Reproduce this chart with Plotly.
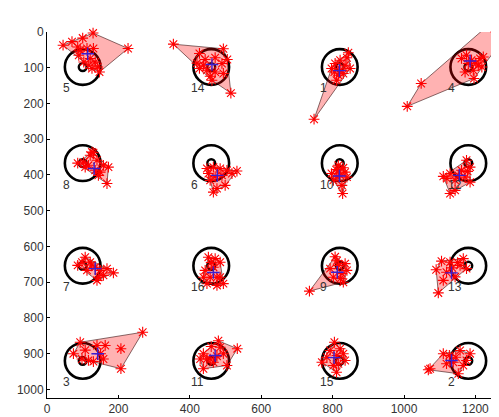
import plotly.graph_objects as go

# ---- data ----
target_ids = [5, 14, 1, 4, 8, 6, 10, 12, 7, 16, 9, 13, 3, 11, 15, 2]
target_x = [100, 460, 820, 1180, 100, 460, 820, 1180, 100, 460, 820, 1180, 100, 460, 820, 1180]
target_y = [98, 98, 98, 98, 367, 367, 367, 367, 654, 654, 654, 654, 920, 920, 920, 920]

gx_5 = [45, 70, 100, 129, 227, 147, 93, 89, 112, 130, 121, 103, 135, 117, 126, 142, 86]
gy_5 = [37, 27, 17, 3, 46, 112, 51, 65, 46, 46, 74, 84, 84, 93, 102, 98, 42]
gx_14 = [354, 494, 505, 515, 427, 420, 443, 471, 490, 427, 448, 471, 457, 462, 494, 438]
gy_14 = [34, 47, 77, 171, 60, 87, 77, 72, 88, 102, 107, 112, 124, 135, 116, 93]
gx_1 = [748, 844, 849, 797, 807, 821, 816, 830, 811, 835, 823, 840, 805]
gy_1 = [244, 58, 102, 102, 88, 79, 121, 116, 135, 93, 107, 72, 112]
gx_4 = [1009, 1048, 1257, 1287, 1257, 1196, 1161, 1175, 1189, 1213, 1222, 1208, 1194, 1171, 1180, 1201, 1218]
gy_4 = [208, 144, -37, 8, 0, 130, 74, 65, 79, 74, 70, 93, 107, 112, 88, 87, 98]
gx_8 = [86, 102, 121, 130, 140, 116, 135, 149, 144, 172, 168, 158, 107, 126]
gy_8 = [367, 364, 345, 338, 359, 373, 387, 392, 401, 378, 424, 373, 378, 336]
gx_6 = [448, 466, 485, 504, 532, 518, 499, 466, 476, 457, 452, 471, 490]
gy_6 = [382, 378, 382, 387, 389, 396, 429, 448, 438, 415, 396, 405, 401]
gx_10 = [816, 797, 816, 835, 840, 802, 826, 828, 821, 810, 830, 812]
gy_10 = [373, 396, 387, 392, 406, 415, 429, 452, 401, 385, 380, 405]
gx_12 = [1110, 1129, 1143, 1129, 1143, 1175, 1185, 1185, 1161, 1171, 1152, 1178, 1120]
gy_12 = [404, 396, 415, 452, 443, 359, 378, 420, 387, 406, 401, 390, 410]
gx_7 = [86, 98, 107, 121, 135, 149, 168, 186, 144, 140, 112, 158, 125]
gy_7 = [653, 644, 630, 644, 658, 667, 662, 674, 686, 695, 667, 681, 652]
gx_16 = [452, 471, 485, 443, 438, 448, 476, 494, 485, 466, 457, 476, 460]
gy_16 = [630, 634, 644, 667, 686, 704, 709, 704, 686, 658, 686, 686, 645]
gx_9 = [735, 807, 835, 840, 830, 802, 793, 816, 826, 812, 822]
gy_9 = [725, 629, 648, 667, 700, 686, 662, 653, 676, 640, 690]
gx_13 = [1096, 1090, 1105, 1129, 1166, 1175, 1157, 1110, 1143, 1119, 1150, 1135]
gy_13 = [730, 665, 641, 644, 634, 662, 653, 695, 685, 672, 645, 660]
gx_3 = [268, 207, 207, 93, 74, 163, 140, 107, 130, 158, 98, 116, 150]
gy_3 = [840, 942, 886, 868, 900, 877, 877, 890, 922, 915, 915, 919, 900]
gx_11 = [533, 480, 438, 438, 504, 485, 457, 466, 448, 494, 429, 476, 460]
gy_11 = [886, 864, 900, 942, 933, 882, 915, 924, 915, 900, 915, 907, 880]
gx_15 = [805, 770, 811, 830, 835, 793, 816, 784, 821, 802, 812]
gy_15 = [868, 924, 952, 900, 919, 891, 928, 910, 886, 933, 905]
gx_2 = [1073, 1068, 1110, 1127, 1157, 1185, 1166, 1152, 1138, 1119, 1175, 1145]
gy_2 = [942, 945, 900, 905, 891, 900, 933, 956, 924, 928, 919, 910]

mean_x = [114, 462, 819, 1185, 132, 477, 819, 1155, 135, 466, 813, 1133, 142, 471, 804, 1133]
mean_y = [61, 91, 108, 81, 382, 401, 403, 401, 662, 673, 672, 674, 900, 905, 911, 919]

x_ticks = [0, 200, 400, 600, 800, 1000, 1200]
y_ticks = [0, 100, 200, 300, 400, 500, 600, 700, 800, 900, 1000]

gaze = [(gx_5, gy_5), (gx_14, gy_14), (gx_1, gy_1), (gx_4, gy_4),
        (gx_8, gy_8), (gx_6, gy_6), (gx_10, gy_10), (gx_12, gy_12),
        (gx_7, gy_7), (gx_16, gy_16), (gx_9, gy_9), (gx_13, gy_13),
        (gx_3, gy_3), (gx_11, gy_11), (gx_15, gy_15), (gx_2, gy_2)]


def convex_hull(xs, ys):
    pts = sorted(set(zip(xs, ys)))
    if len(pts) < 3:
        return pts

    def cross(o, a, b):
        return (a[0] - o[0]) * (b[1] - o[1]) - (a[1] - o[1]) * (b[0] - o[0])

    lower, upper = [], []
    for p in pts:
        while len(lower) >= 2 and cross(lower[-2], lower[-1], p) <= 0:
            lower.pop()
        lower.append(p)
    for p in reversed(pts):
        while len(upper) >= 2 and cross(upper[-2], upper[-1], p) <= 0:
            upper.pop()
        upper.append(p)
    return lower[:-1] + upper[:-1]


fig = go.Figure()

R_OUT, R_IN = 50, 11
shapes = []
for cx, cy in zip(target_x, target_y):
    for r, w in ((R_OUT, 2.6), (R_IN, 2.4)):
        shapes.append(dict(type="circle", xref="x", yref="y",
                           x0=cx - r, x1=cx + r, y0=cy - r, y1=cy + r,
                           line=dict(color="black", width=w), layer="below"))

for xs, ys in gaze:
    hull = convex_hull(xs, ys)
    hx = [p[0] for p in hull] + [hull[0][0]]
    hy = [p[1] for p in hull] + [hull[0][1]]
    fig.add_trace(go.Scatter(x=hx, y=hy, mode="lines", fill="toself",
                             fillcolor="rgba(255,0,0,0.3)",
                             line=dict(color="rgba(40,0,0,0.8)", width=0.7),
                             hoverinfo="skip", showlegend=False))

for xs, ys in gaze:
    fig.add_trace(go.Scatter(x=xs, y=ys, mode="markers", cliponaxis=False,
                             marker=dict(symbol="asterisk-open", size=9, color="red",
                                         line=dict(color="red", width=1.1)),
                             showlegend=False))

fig.add_trace(go.Scatter(x=mean_x, y=mean_y, mode="markers", cliponaxis=False,
                         marker=dict(symbol="cross-thin-open", size=9, color="#3a1fd0",
                                     line=dict(color="#3a1fd0", width=1.4)),
                         showlegend=False))

annotations = []
for tid, cx, cy in zip(target_ids, target_x, target_y):
    annotations.append(dict(x=cx - 62, y=cy + 60, xref="x", yref="y",
                            text=str(tid), showarrow=False, xanchor="left",
                            yanchor="middle",
                            font=dict(family="Liberation Sans, Arial", size=12, color="#333")))

# page body has an 8px margin: the figure is sized to fill the rest of the window
fig.update_layout(
    width=491, height=409,
    margin=dict(l=38.7, r=0, t=23.7, b=19, pad=0, autoexpand=False),
    paper_bgcolor="white", plot_bgcolor="white",
    shapes=shapes, annotations=annotations,
    font=dict(family="Liberation Sans, Arial", size=12, color="#333"),
    xaxis=dict(range=[0, 1266], tickvals=x_ticks, ticktext=[str(v) for v in x_ticks],
               showgrid=False, zeroline=False, showline=True, linecolor="black",
               linewidth=1, ticks="inside", ticklen=3, tickcolor="black",
               automargin=False),
    yaxis=dict(range=[1024, 0], tickvals=y_ticks, ticktext=[str(v) for v in y_ticks],
               showgrid=False, zeroline=False, showline=True, linecolor="black",
               linewidth=1, ticks="inside", ticklen=3, tickcolor="black",
               automargin=False),
)

fig.write_html("out.html")
